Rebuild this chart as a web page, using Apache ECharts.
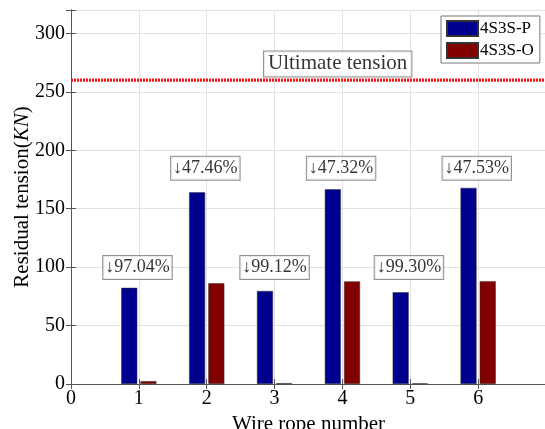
<!DOCTYPE html>
<html><head><meta charset="utf-8">
<script src="https://cdn.jsdelivr.net/npm/echarts@6/dist/echarts.min.js"></script>
<style>html,body{margin:0;padding:0;background:#fff}#c{width:545px;height:429px}</style>
</head><body><div id="c"></div>
<script>
var ropeNumbers = [1, 2, 3, 4, 5, 6];
var seriesP = [82.3, 164.0, 79.6, 166.6, 78.5, 167.8];
var seriesO = [2.44, 86.2, 0.7, 87.8, 0.55, 88.0];
var ultimateTension = 260;
var reductionLabels = ['↓97.04%', '↓47.46%', '↓99.12%', '↓47.32%', '↓99.30%', '↓47.53%'];
var labelY = [99.6, 184.6, 99.6, 184.6, 99.6, 184.6];
var labelX = [0.98, 1.98, 3.0, 3.98, 4.98, 5.98];
var ultimateLabel = {x: 3.93, y: 273.9, text: 'Ultimate tension'};
var xTicks = {min: 0, max: 7, interval: 1};
var yTicks = {min: 0, max: 320, interval: 50};

var FONT = 'Liberation Serif';
var axisColor = '#555';
var chart = echarts.init(document.getElementById('c'), null, {renderer: 'canvas'});

function pairs(xs, ys) { return xs.map(function (x, i) { return [x, ys[i]]; }); }

var option = {
  animation: false,
  grid: {left: 71, right: -1, top: 10, bottom: 45, containLabel: false, outerBoundsMode: 'none'},
  legend: {
    data: ['4S3S-P', '4S3S-O'],
    orient: 'vertical', left: 441, top: 16,
    itemWidth: 31, itemHeight: 15, itemGap: 5,
    padding: [4, 6, 4, 5],
    borderColor: '#777', borderWidth: 1, backgroundColor: '#fff',
    icon: 'rect',
    textStyle: {fontFamily: FONT, fontSize: 17, color: '#000', padding: [0, 0, 0, -3]}
  },
  xAxis: [{
    type: 'value', min: xTicks.min, max: xTicks.max, interval: xTicks.interval, position: 'bottom',
    name: 'Wire rope number', nameLocation: 'middle', nameGap: 30, nameMoveOverlap: false,
    nameTextStyle: {fontFamily: FONT, fontSize: 21, color: '#000'},
    axisLine: {show: true, lineStyle: {color: axisColor, width: 1}},
    axisTick: {show: true, inside: true, length: 5, lineStyle: {color: axisColor}},
    axisLabel: {fontFamily: FONT, fontSize: 20, color: '#000', margin: 5,
      formatter: function (v) { return v === xTicks.max ? '' : String(v); }},
    splitLine: {show: true, lineStyle: {color: '#e2e2e2', width: 1}}
  }, {
    type: 'value', min: xTicks.min, max: xTicks.max, interval: xTicks.interval, position: 'top',
    axisLine: {show: true, lineStyle: {color: axisColor, width: 1}},
    axisTick: {show: true, inside: true, length: 5, lineStyle: {color: axisColor}},
    axisLabel: {show: false}, splitLine: {show: false}
  }],
  yAxis: [{
    type: 'value', min: yTicks.min, max: yTicks.max, interval: yTicks.interval, position: 'left',
    name: '{n|Residual tension(}{i|KN}{n|)}', nameLocation: 'middle', nameGap: 38, nameMoveOverlap: false,
    nameTextStyle: {fontFamily: FONT, fontSize: 21, color: '#000',
      rich: {n: {fontFamily: FONT, fontSize: 21, color: '#000'}, i: {fontFamily: FONT, fontSize: 21, fontStyle: 'italic', color: '#000'}}},
    axisLine: {show: true, lineStyle: {color: axisColor, width: 1}},
    axisTick: {show: true, inside: true, length: 5, lineStyle: {color: axisColor}},
    axisLabel: {fontFamily: FONT, fontSize: 20, color: '#000', margin: 6,
      formatter: function (v) { return v % yTicks.interval === 0 ? String(v) : ''; }},
    splitLine: {show: true, lineStyle: {color: '#e2e2e2', width: 1}}
  }, {
    type: 'value', min: yTicks.min, max: yTicks.max, interval: yTicks.interval, position: 'right',
    axisLine: {show: true, lineStyle: {color: axisColor, width: 1}},
    axisTick: {show: true, inside: true, length: 5, lineStyle: {color: axisColor}},
    axisLabel: {show: false}, splitLine: {show: false}
  }],
  series: [{
    name: '4S3S-P', type: 'bar', xAxisIndex: 0, yAxisIndex: 0,
    data: pairs(ropeNumbers, seriesP), barWidth: 16, barGap: '20%',
    itemStyle: {color: '#00008f', borderColor: '#333', borderWidth: 0.5}
  }, {
    name: '4S3S-O', type: 'bar', xAxisIndex: 0, yAxisIndex: 0,
    data: pairs(ropeNumbers, seriesO), barWidth: 16, barGap: '20%',
    itemStyle: {color: '#800000', borderColor: '#333', borderWidth: 0.5}
  }, {
    name: 'Ultimate', type: 'line', xAxisIndex: 0, yAxisIndex: 0,
    data: [[xTicks.min, ultimateTension], [xTicks.max, ultimateTension]],
    symbol: 'none', lineStyle: {color: '#f5161c', width: 3.4, type: [2, 1]}, z: 3
  }, {
    name: 'labels', type: 'scatter', xAxisIndex: 0, yAxisIndex: 0,
    symbolSize: 0, z: 5,
    data: labelX.map(function (x, i) { return {value: [x, labelY[i]], text: reductionLabels[i]}; })
      .concat([{value: [ultimateLabel.x, ultimateLabel.y], text: ultimateLabel.text}]),
    label: {
      show: true, position: 'inside',
      formatter: function (p) { return p.data.text; },
      fontFamily: FONT, fontSize: 18, color: '#000',
      backgroundColor: '#fff', borderColor: '#777', borderWidth: 1, padding: [3, 2, 2, 2]
    }
  }]
};
option.series[3].data[6].label = {fontSize: 21, padding: [2, 4, 2, 4]};
chart.setOption(option);
</script>
</body></html>
